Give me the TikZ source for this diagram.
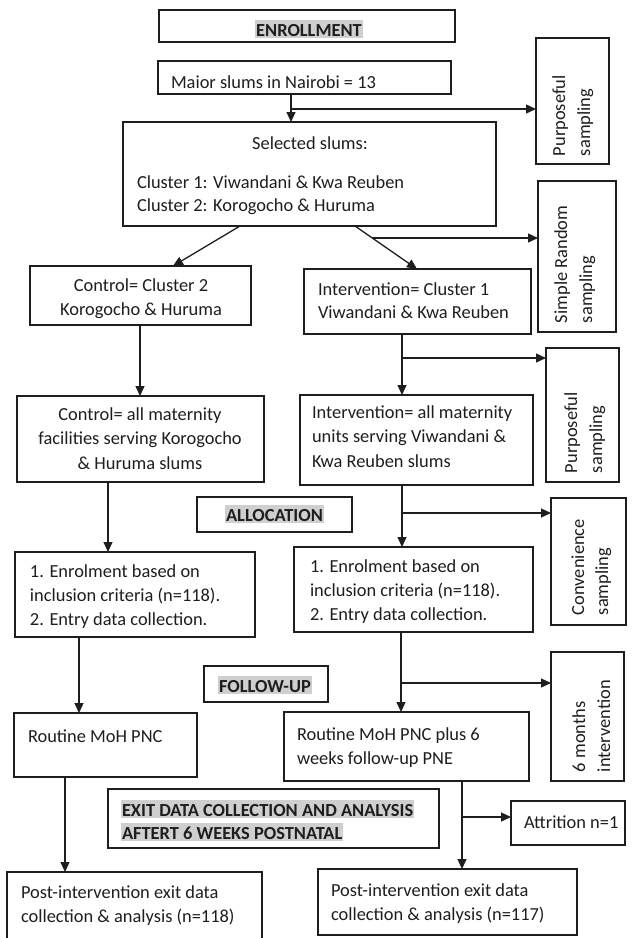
\documentclass[tikz,border=0pt]{standalone}
\usepackage{fontspec}
\setmainfont{Carlito}
\usetikzlibrary{arrows.meta,calc}
\definecolor{ink}{HTML}{1E1E1E}
\definecolor{hl}{HTML}{CFCFCF}
\newcommand\hlt[1]{{\setlength\fboxsep{1pt}\colorbox{hl}{\rule[-1pt]{0pt}{16pt}#1}}}
\newcommand\mybox[5]{\node[box, minimum width={(#4)-(#2)}, minimum height={(#5)-(#3)}] (#1) at ({((#2)+(#4))/2},{((#3)+(#5))/2}) {};}
\begin{document}
\begin{tikzpicture}[x=1pt,y=-1pt,
 box/.style={draw=ink, line width=1.5pt, rectangle, inner sep=0pt, outer sep=0pt},
 txt/.style={inner sep=0pt, outer sep=0pt, text=ink, font=\fontsize{18.4}{24.5}\selectfont},
 hd/.style={inner sep=0pt, outer sep=0pt, text=ink, font=\fontsize{18.4}{24.5}\selectfont\bfseries},
 rtxt/.style={txt, rotate=90, anchor=base west},
 arr/.style={draw=ink, line width=1.3pt, -{Triangle[length=10pt,width=9pt]}}]
\useasboundingbox (0,0) rectangle (632,938);
\fill[white] (0,0) rectangle (632,938);
\clip (0,0) rectangle (632,938);

% boxes
\mybox{enr}{159}{10}{455}{42}
\mybox{major}{158}{61}{451}{94}
\mybox{purp1}{536}{38}{609}{164}
\mybox{sel}{123}{122}{496}{226}
\mybox{simp}{538}{181}{616}{332}
\mybox{ctrl1}{30}{266}{251}{325}
\mybox{int1}{304}{269}{531}{334}
\mybox{ctrl2}{17}{396}{264}{482}
\mybox{int2}{300}{395}{533}{485}
\mybox{purp2}{546}{348}{619}{482}
\mybox{alloc}{197}{497}{352}{532}
\mybox{conv}{551}{498}{626}{625}
\mybox{enrL}{15}{552}{255}{637}
\mybox{enrR}{294}{547}{533}{632}
\mybox{follow}{204}{666}{328}{702}
\mybox{six}{551}{652}{624}{781}
\mybox{routL}{14}{713}{197}{777}
\mybox{routR}{284}{712}{529}{781}
\mybox{exit}{108}{789}{439}{848}
\mybox{attr}{511}{801}{625}{845}
\mybox{postL}{7}{872}{262}{960}
\mybox{postR}{318}{869}{577}{935}

% texts
\node[hd, anchor=base] (tEnr) at (309,36) {\hlt{ENROLLMENT}};
\node[txt, anchor=base west] (tMaj) at (171,88) {Maior slums in Nairobi = 13};
\node[txt, anchor=base] (tSel1) at (310,149) {Selected slums:};
\node[txt, anchor=base west] (tSel2) at (137,188) {Cluster 1: Viwandani \& Kwa Reuben};
\node[txt, anchor=base west] (tSel3) at (137,211.5) {Cluster 2: Korogocho \& Huruma};
\node[txt, anchor=base] (tC1a) at (141,291.5) {Control= Cluster 2};
\node[txt, anchor=base] (tC1b) at (141,315) {Korogocho \& Huruma};
\node[txt, anchor=base west] (tI1a) at (318,295) {Intervention= Cluster 1};
\node[txt, anchor=base west] (tI1b) at (318,318.5) {Viwandani \& Kwa Reuben};
\node[txt, anchor=base] (tC2a) at (140,420) {Control= all maternity};
\node[txt, anchor=base] (tC2b) at (140,444.5) {facilities serving Korogocho};
\node[txt, anchor=base] (tC2c) at (140,469) {\& Huruma slums};
\node[txt, anchor=base west] (tI2a) at (312,418) {Intervention= all maternity};
\node[txt, anchor=base west] (tI2b) at (312,442.5) {units serving Viwandani \&};
\node[txt, anchor=base west] (tI2c) at (312,467) {Kwa Reuben slums};
\node[hd, anchor=base] (tAl) at (274.5,521) {\hlt{ALLOCATION}};
\node[txt, anchor=base west] (tELa) at (30,577) {1. Enrolment based on};
\node[txt, anchor=base west] (tELb) at (30,601) {inclusion criteria (n=118).};
\node[txt, anchor=base west] (tELc) at (30,625) {2. Entry data collection.};
\node[txt, anchor=base west] (tERa) at (310,572) {1. Enrolment based on};
\node[txt, anchor=base west] (tERb) at (310,596) {inclusion criteria (n=118).};
\node[txt, anchor=base west] (tERc) at (310,620) {2. Entry data collection.};
\node[hd, anchor=base] (tFo) at (265,692) {\hlt{FOLLOW-UP}};
\node[txt, anchor=base west] (tRL) at (28,742) {Routine MoH PNC};
\node[txt, anchor=base west] (tRRa) at (297,740) {Routine MoH PNC plus 6};
\node[txt, anchor=base west] (tRRb) at (297,764) {weeks follow-up PNE};
\node[hd, anchor=base west] (tExa) at (121,816) {\hlt{EXIT DATA COLLECTION AND ANALYSIS}};
\node[hd, anchor=base west] (tExb) at (121,839) {\hlt{AFTERT 6 WEEKS POSTNATAL}};
\node[txt, anchor=base west] (tAt) at (524,828) {Attrition n=1};
\node[txt, anchor=base west] (tPLa) at (21,898.5) {Post-intervention exit data};
\node[txt, anchor=base west] (tPLb) at (21,922) {collection \& analysis (n=118)};
\node[txt, anchor=base west] (tPRa) at (331,896.5) {Post-intervention exit data};
\node[txt, anchor=base west] (tPRb) at (331,920) {collection \& analysis (n=117)};

% rotated texts
\node[rtxt] (tP1a) at (565,156) {Purposeful};
\node[rtxt] (tP1b) at (590,156) {sampling};
\node[rtxt] (tSRa) at (567,323) {Simple Random};
\node[rtxt] (tSRb) at (592,323) {sampling};
\node[rtxt] (tP2a) at (577,473) {Purposeful};
\node[rtxt] (tP2b) at (602,473) {sampling};
\node[rtxt] (tCoa) at (584,615) {Convenience};
\node[rtxt] (tCob) at (608,615) {sampling};
\node[rtxt] (tSxa) at (585,772) {6 months};
\node[rtxt] (tSxb) at (610,772) {intervention};

% x positions of connectors
\coordinate (v1) at (291,0);
\coordinate (d1s) at (240,0);
\coordinate (d1e) at (173,0);
\coordinate (d2s) at (355,0);
\coordinate (d2e) at (417,0);
\coordinate (v4) at (140,0);
\coordinate (v5) at (402,0);
\coordinate (v6) at (108,0);
\coordinate (v8) at (79,0);
\coordinate (v9) at (401,0);
\coordinate (v10) at (65,0);
\coordinate (v11) at (462,0);

% connectors
\draw[arr] (major.south -| v1) -- (sel.north -| v1);
\coordinate (b1) at (291,109);
\draw[arr] (b1) -- (b1 -| purp1.west);

\draw[arr] (sel.south -| d1s) -- (ctrl1.north -| d1e);
\coordinate (s3) at (sel.south -| d2s);
\coordinate (e3) at (int1.north -| d2e);
\draw[arr] (s3) -- (e3);
\coordinate (b2) at ($(s3)!{12/43}!(e3)$);
\draw[arr] (b2) -- (b2 -| simp.west);

\draw[arr] (ctrl1.south -| v4) -- (ctrl2.north -| v4);
\draw[arr] (int1.south -| v5) -- (int2.north -| v5);
\coordinate (b3) at (402,358);
\draw[arr] (b3) -- (b3 -| purp2.west);

\draw[arr] (ctrl2.south -| v6) -- (enrL.north -| v6);
\draw[arr] (int2.south -| v5) -- (enrR.north -| v5);
\coordinate (b4) at (402,513);
\draw[arr] (b4) -- (b4 -| conv.west);

\draw[arr] (enrL.south -| v8) -- (routL.north -| v8);
\draw[arr] (enrR.south -| v9) -- (routR.north -| v9);
\coordinate (b5) at (401,683);
\draw[arr] (b5) -- (b5 -| six.west);

\draw[arr] (routL.south -| v10) -- (postL.north -| v10);
\draw[arr] (routR.south -| v11) -- (postR.north -| v11);
\coordinate (b6) at (462,817);
\draw[arr] (b6) -- (b6 -| attr.west);
\end{tikzpicture}
\end{document}
